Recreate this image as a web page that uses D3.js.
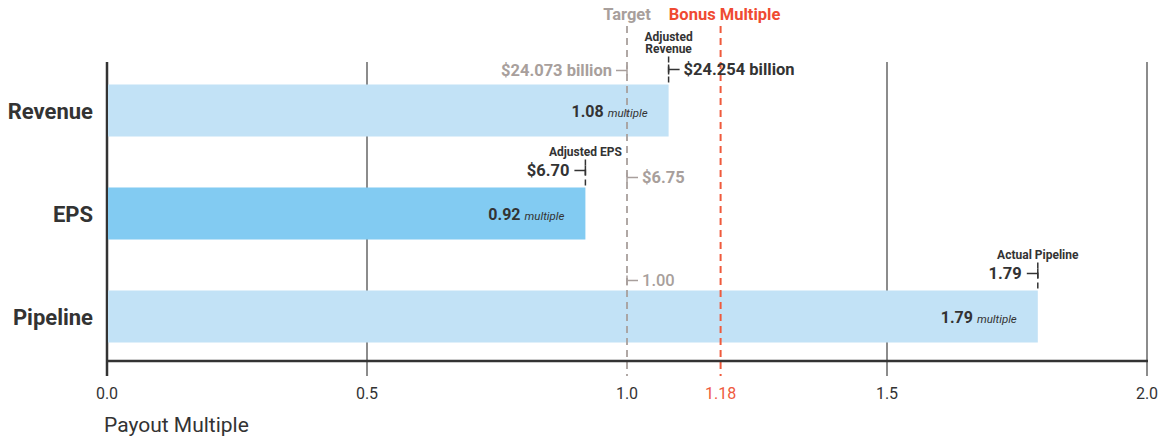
<!DOCTYPE html>
<html>
<head>
<meta charset="utf-8">
<style>
body { margin: 0; background: #fff; }
text { font-family: Roboto, "DejaVu Sans", sans-serif; }
.grid { stroke: #555; stroke-width: 1.5px; }
.gray { fill: #a89f9c; }
.dark { fill: #333; }
</style>
</head>
<body>
<script src="https://cdn.jsdelivr.net/npm/d3@7"></script>
<script>

var categories = ["Revenue", "EPS", "Pipeline"];
var multiples = [1.08, 0.92, 1.79];
var targetLabels = ["$24.073 billion", "$6.75", "1.00"];
var actualLabels = ["$24.254 billion", "$6.70", "1.79"];
var actualTitles = [["Adjusted", "Revenue"], ["Adjusted EPS"], ["Actual Pipeline"]];
var xTicks = [0, 0.5, 1.0, 1.5, 2.0];
var target = 1.0;
var bonus = 1.18;

var width = 1163, height = 441;

var svg = d3.select("body").append("svg")
    .attr("width", width)
    .attr("height", height);

var x = d3.scaleLinear().domain([0, 2]).range([107, 1147]);
var y = d3.scaleBand().domain(categories).range([59, 368])
    .paddingInner(0.495).paddingOuter(0.2475);

var axisY = 361;

// gridlines
svg.append("g").selectAll("line")
    .data(xTicks.filter(function(d) { return d != target; }))
    .enter().append("line")
    .attr("class", "grid")
    .attr("x1", function(d) { return x(d); })
    .attr("x2", function(d) { return x(d); })
    .attr("y1", 62)
    .attr("y2", 376)
    .style("stroke-width", function(d) { return d == 0 ? 2.5 : 1.5; })
    .style("stroke", function(d) { return d == 0 ? "#333" : "#666"; });

// bars
svg.append("g").selectAll("rect")
    .data(categories)
    .enter().append("rect")
    .attr("x", x(0) + 1)
    .attr("y", function(d) { return y(d); })
    .attr("width", function(d, i) { return x(multiples[i]) - x(0) - 1; })
    .attr("height", y.bandwidth())
    .style("fill", function(d, i) { return i == 1 ? "#82cbf2" : "#c2e2f6"; });

// target + bonus lines
svg.append("line")
    .attr("x1", x(target)).attr("x2", x(target))
    .attr("y1", 26).attr("y2", 376)
    .style("stroke", "#a89f9c").style("stroke-width", 1.8)
    .style("stroke-dasharray", "7,5");

svg.append("line")
    .attr("x1", x(bonus)).attr("x2", x(bonus))
    .attr("y1", 26).attr("y2", 376)
    .style("stroke", "#ef5a3c").style("stroke-width", 2)
    .style("stroke-dasharray", "7,5");

// x axis line
svg.append("line")
    .attr("x1", x(0) - 1).attr("x2", x(2) + 1)
    .attr("y1", axisY).attr("y2", axisY)
    .style("stroke", "#333").style("stroke-width", 2.5);

// tick labels
svg.append("g").selectAll("text")
    .data(xTicks)
    .enter().append("text")
    .attr("x", function(d) { return x(d); })
    .attr("y", 399)
    .attr("text-anchor", "middle")
    .style("font-size", "16px")
    .style("fill", "#333")
    .text(function(d) { return d3.format(".1f")(d); });

svg.append("text")
    .attr("x", x(bonus))
    .attr("y", 399)
    .attr("text-anchor", "middle")
    .style("font-size", "16px")
    .style("fill", "#ef5a3c")
    .text(bonus.toFixed(2));

svg.append("text")
    .attr("x", 104)
    .attr("y", 432)
    .style("font-size", "21px")
    .style("fill", "#333")
    .text("Payout Multiple");

// headers
svg.append("text")
    .attr("x", x(target)).attr("y", 20)
    .attr("text-anchor", "middle")
    .style("font-size", "16.5px").style("font-weight", "bold")
    .style("fill", "#a89f9c")
    .text("Target");

svg.append("text")
    .attr("x", x(bonus) + 4).attr("y", 20)
    .attr("text-anchor", "middle")
    .style("font-size", "16.5px").style("font-weight", "bold")
    .style("fill", "#ef4a32")
    .text("Bonus Multiple");

// category labels
svg.append("g").selectAll("text")
    .data(categories)
    .enter().append("text")
    .attr("x", 93)
    .attr("y", function(d) { return y(d) + y.bandwidth() / 2 + 8; })
    .attr("text-anchor", "end")
    .style("font-size", "22px").style("font-weight", "bold")
    .style("fill", "#333")
    .text(function(d) { return d; });

// bar value labels
var vl = svg.append("g").selectAll("text")
    .data(categories)
    .enter().append("text")
    .attr("x", function(d, i) { return x(multiples[i]) - 21; })
    .attr("y", function(d) { return y(d) + y.bandwidth() / 2 + 6; })
    .attr("text-anchor", "end")
    .style("fill", "#333");
vl.append("tspan")
    .style("font-size", "16px").style("font-weight", "bold")
    .text(function(d, i) { return multiples[i].toFixed(2) + " "; });
vl.append("tspan")
    .style("font-size", "11.5px").style("font-style", "italic")
    .text("multiple");

// target labels
categories.forEach(function(c, i) {
  var top = y(c);
  var ly = i == 0 ? top - 14 : top - 10;
  var tx = x(target);
  var g = svg.append("g");
  if (i == 0) {
    g.append("line").attr("x1", tx - 11).attr("x2", tx).attr("y1", ly).attr("y2", ly)
      .style("stroke", "#a89f9c").style("stroke-width", 1.5);
    g.append("line").attr("x1", tx).attr("x2", tx).attr("y1", ly - 5).attr("y2", ly + 5)
      .style("stroke", "#a89f9c").style("stroke-width", 1.5);
    g.append("text").attr("class", "gray").attr("x", tx - 15).attr("y", ly + 6)
      .attr("text-anchor", "end")
      .style("font-size", "16.5px").style("font-weight", "bold")
      .text(targetLabels[i]);
  } else {
    g.append("line").attr("x1", tx).attr("x2", tx + 11).attr("y1", ly).attr("y2", ly)
      .style("stroke", "#a89f9c").style("stroke-width", 1.5);
    g.append("line").attr("x1", tx).attr("x2", tx).attr("y1", ly - 5).attr("y2", ly + 5)
      .style("stroke", "#a89f9c").style("stroke-width", 1.5);
    g.append("text").attr("class", "gray").attr("x", tx + 15).attr("y", ly + 6)
      .style("font-size", "16.5px").style("font-weight", i == 1 ? "bold" : "500")
      .text(targetLabels[i]);
  }
});

// actual labels
categories.forEach(function(c, i) {
  var top = y(c);
  var ax = x(multiples[i]);
  var ly = i == 0 ? top - 15 : top - 17;
  var g = svg.append("g");
  g.append("line").attr("x1", ax).attr("x2", ax).attr("y1", top - 28).attr("y2", top)
    .style("stroke", "#333").style("stroke-width", 1.5)
    .style("stroke-dasharray", "6,4");
  g.append("line").attr("x1", ax).attr("x2", ax).attr("y1", ly - 5).attr("y2", ly + 5)
    .style("stroke", "#333").style("stroke-width", 1.5);
  var titles = actualTitles[i];
  titles.forEach(function(t, j) {
    g.append("text").attr("class", "dark")
      .attr("x", ax).attr("y", top - 31 - (titles.length - 1 - j) * 12.5)
      .attr("text-anchor", "middle")
      .style("font-size", "12px").style("font-weight", "bold")
      .text(t);
  });
  if (i == 0) {
    g.append("line").attr("x1", ax).attr("x2", ax + 11).attr("y1", ly).attr("y2", ly)
      .style("stroke", "#333").style("stroke-width", 1.5);
    g.append("text").attr("class", "dark").attr("x", ax + 15).attr("y", ly + 6)
      .style("font-size", "16.5px").style("font-weight", "bold")
      .text(actualLabels[i]);
  } else {
    g.append("line").attr("x1", ax - 11).attr("x2", ax).attr("y1", ly).attr("y2", ly)
      .style("stroke", "#333").style("stroke-width", 1.5);
    g.append("text").attr("class", "dark").attr("x", ax - 16).attr("y", ly + 6)
      .attr("text-anchor", "end")
      .style("font-size", "16.5px").style("font-weight", "bold")
      .text(actualLabels[i]);
  }
});

</script>
</body>
</html>
